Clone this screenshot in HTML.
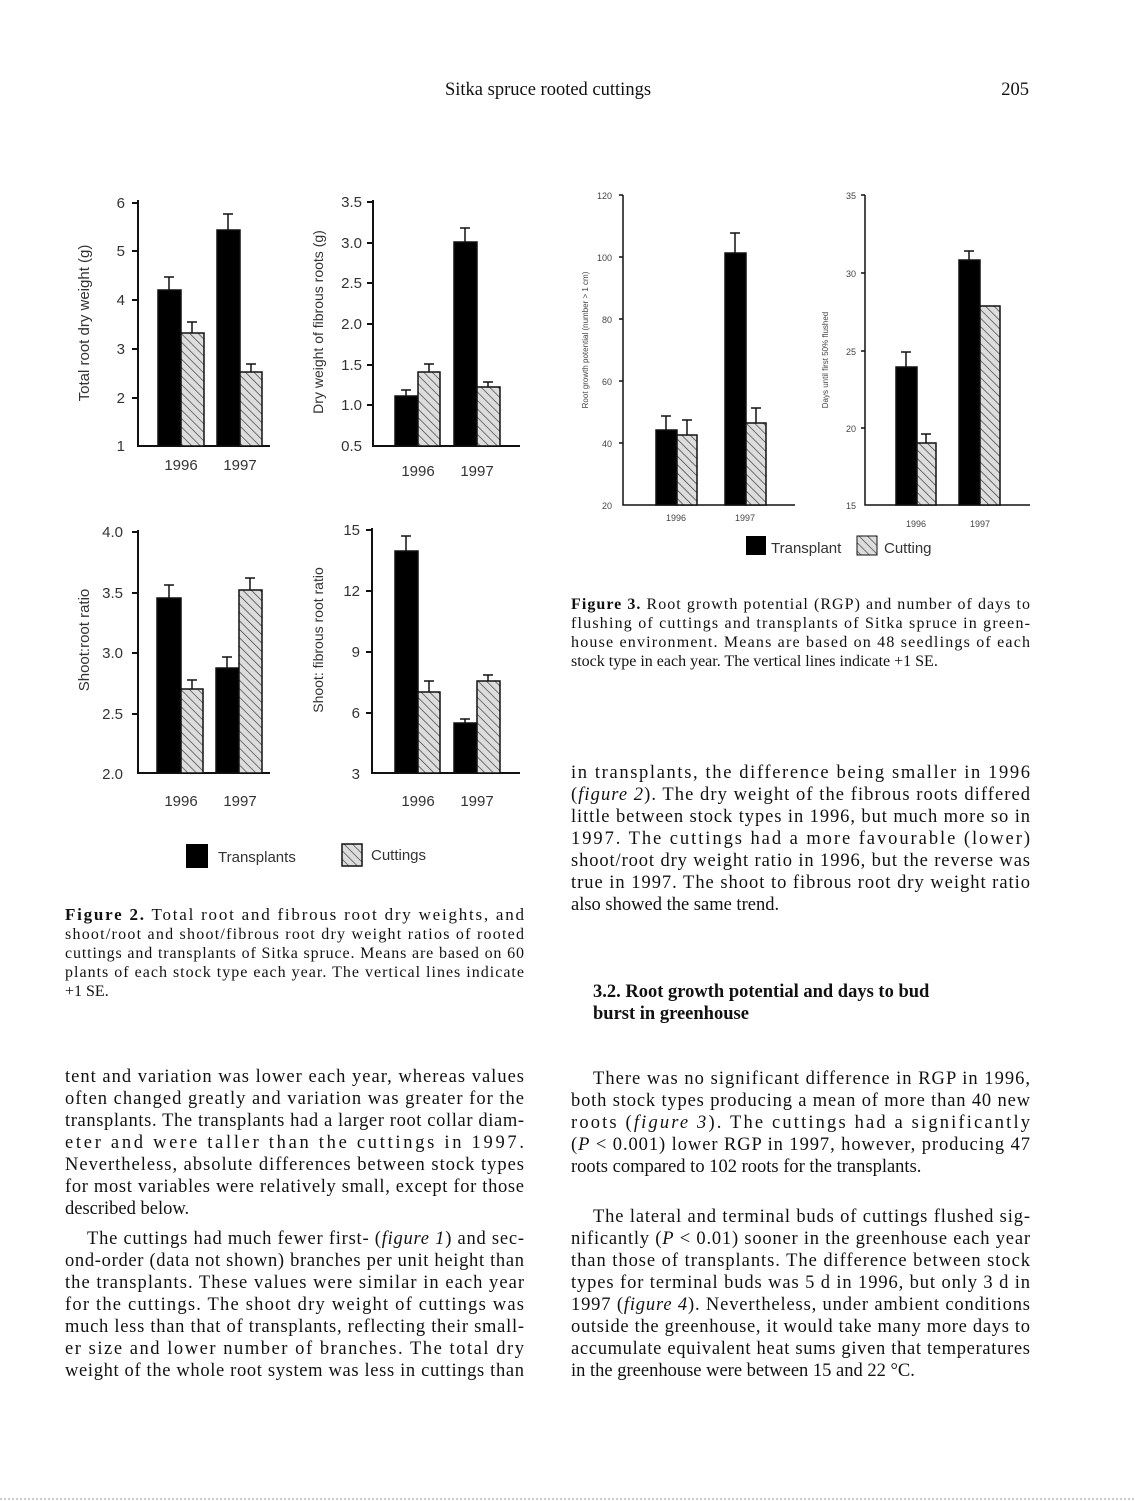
<!DOCTYPE html>
<html><head><meta charset="utf-8"><style>
body{margin:0;background:#fff}
svg{display:block}
.b{font-family:"Liberation Serif",serif;font-size:18.5px;fill:#111}
.c{font-family:"Liberation Serif",serif;font-size:16px;fill:#111}
.a{font-family:"Liberation Sans",sans-serif;font-size:15px;fill:#333}
.s{font-family:"Liberation Sans",sans-serif;font-size:9px;fill:#444}
</style></head><body>
<svg width="1135" height="1501" viewBox="0 0 1135 1501" xmlns="http://www.w3.org/2000/svg">
<defs><pattern id="h" width="6" height="6" patternUnits="userSpaceOnUse" patternTransform="rotate(-45)"><rect width="6" height="6" fill="#ddd"/><line x1="0" y1="0" x2="0" y2="6" stroke="#333" stroke-width="1.3"/></pattern></defs>
<text class="b" x="548" y="95" text-anchor="middle">Sitka spruce rooted cuttings</text>
<text class="b" x="1029" y="95" text-anchor="end">205</text>
<g stroke="#111" stroke-width="2" fill="none">
<path d="M138 200V446H270"/><path d="M132 203h6M132 251h6M132 300h6M132 349h6M132 398h6"/>
<path d="M373 200V446H520"/><path d="M367 202h6M367 243h6M367 283h6M367 324h6M367 365h6M367 405h6"/>
<path d="M138 530V773H270"/><path d="M132 532h6M132 593h6M132 653h6M132 714h6"/>
<path d="M372 528V773H520"/><path d="M366 530h6M366 591h6M366 652h6M366 713h6"/>
<path d="M623 195V505H795" stroke-width="1.5"/><path d="M619 195h4M619 257h4M619 319h4M619 381h4M619 443h4" stroke-width="1.5"/>
<path d="M865 195V505H1030" stroke-width="1.5"/><path d="M861 195h4M861 273h4M861 351h4M861 428h4" stroke-width="1.5"/>
</g>
<g stroke="#111" stroke-width="1.5">
<rect x="158" y="290" width="23" height="156" fill="#000"/><rect x="181" y="333" width="23" height="113" fill="url(#h)"/>
<rect x="217" y="230" width="23" height="216" fill="#000"/><rect x="240" y="372" width="22" height="74" fill="url(#h)"/>
<path d="M169 290V277M164 277h10M192 333V322M187 322h10M228 230V214M223 214h10M251 372V364M246 364h10"/>
<rect x="395" y="396" width="23" height="50" fill="#000"/><rect x="418" y="372" width="22" height="74" fill="url(#h)"/>
<rect x="454" y="242" width="23" height="204" fill="#000"/><rect x="477" y="387" width="23" height="59" fill="url(#h)"/>
<path d="M406 396V390M401 390h10M429 372V364M424 364h10M465 242V228M460 228h10M488 387V382M483 382h10"/>
<rect x="157" y="598" width="24" height="175" fill="#000"/><rect x="181" y="689" width="22" height="84" fill="url(#h)"/>
<rect x="216" y="668" width="23" height="105" fill="#000"/><rect x="239" y="590" width="23" height="183" fill="url(#h)"/>
<path d="M169 598V585M164 585h10M192 689V680M187 680h10M227 668V657M222 657h10M250 590V578M245 578h10"/>
<rect x="395" y="551" width="23" height="222" fill="#000"/><rect x="418" y="692" width="22" height="81" fill="url(#h)"/>
<rect x="454" y="723" width="23" height="50" fill="#000"/><rect x="477" y="681" width="23" height="92" fill="url(#h)"/>
<path d="M406 551V536M401 536h10M429 692V681M424 681h10M465 723V719M460 719h10M488 681V675M483 675h10"/>
<rect x="656" y="430" width="21" height="75" fill="#000"/><rect x="677" y="435" width="20" height="70" fill="url(#h)"/>
<rect x="725" y="253" width="21" height="252" fill="#000"/><rect x="746" y="423" width="20" height="82" fill="url(#h)"/>
<path d="M666 430V416M661 416h10M687 435V420M682 420h10M735 253V233M730 233h10M756 423V408M751 408h10"/>
<rect x="896" y="367" width="21" height="138" fill="#000"/><rect x="917" y="443" width="19" height="62" fill="url(#h)"/>
<rect x="959" y="260" width="21" height="245" fill="#000"/><rect x="980" y="306" width="20" height="199" fill="url(#h)"/>
<path d="M906 367V352M901 352h10M926 443V434M921 434h10M969 260V251M964 251h10"/>
</g>
<g class="a" text-anchor="end">
<text x="125" y="208">6</text><text x="125" y="256">5</text><text x="125" y="305">4</text><text x="125" y="354">3</text><text x="125" y="403">2</text><text x="125" y="451">1</text>
<text x="362" y="207">3.5</text><text x="362" y="248">3.0</text><text x="362" y="288">2.5</text><text x="362" y="329">2.0</text><text x="362" y="370">1.5</text><text x="362" y="410">1.0</text><text x="362" y="451">0.5</text>
<text x="123" y="537">4.0</text><text x="123" y="598">3.5</text><text x="123" y="658">3.0</text><text x="123" y="719">2.5</text><text x="123" y="779">2.0</text>
<text x="360" y="535">15</text><text x="360" y="596">12</text><text x="360" y="657">9</text><text x="360" y="718">6</text><text x="360" y="779">3</text>
</g>
<g class="a" text-anchor="middle">
<text x="181" y="470">1996</text><text x="240" y="470">1997</text>
<text x="418" y="476">1996</text><text x="477" y="476">1997</text>
<text x="181" y="806">1996</text><text x="240" y="806">1997</text>
<text x="418" y="806">1996</text><text x="477" y="806">1997</text>
<text transform="translate(89 323) rotate(-90)">Total root dry weight (g)</text>
<text transform="translate(323 322) rotate(-90)" font-size="14">Dry weight of fibrous roots (g)</text>
<text transform="translate(89 640) rotate(-90)">Shoot:root ratio</text>
<text transform="translate(323 640) rotate(-90)" font-size="14">Shoot: fibrous root ratio</text>
</g>
<rect x="186" y="844" width="22" height="24" fill="#000"/>
<text class="a" x="218" y="862" font-size="17">Transplants</text>
<rect x="342" y="844" width="20" height="22" fill="url(#h)" stroke="#111" stroke-width="1.5"/>
<text class="a" x="371" y="860" font-size="17">Cuttings</text>
<g class="s" text-anchor="end">
<text x="612" y="199">120</text><text x="612" y="261">100</text><text x="612" y="323">80</text><text x="612" y="385">60</text><text x="612" y="447">40</text><text x="612" y="509">20</text>
<text x="856" y="199">35</text><text x="856" y="277">30</text><text x="856" y="355">25</text><text x="856" y="432">20</text><text x="856" y="509">15</text>
</g>
<g class="s" text-anchor="middle">
<text x="676" y="521">1996</text><text x="745" y="521">1997</text><text x="916" y="527">1996</text><text x="980" y="527">1997</text>
<text transform="translate(588 340) rotate(-90)" font-size="8">Root growth potential (number &gt; 1 cm)</text>
<text transform="translate(828 360) rotate(-90)" font-size="8">Days until first 50% flushed</text>
</g>
<rect x="746" y="536" width="20" height="19" fill="#000"/><text class="a" x="771" y="553" font-size="12">Transplant</text>
<rect x="857" y="536" width="20" height="19" fill="url(#h)" stroke="#111"/><text class="a" x="884" y="553" font-size="12">Cutting</text>
<g class="c">
<text x="571" y="609" textLength="459"><tspan font-weight="bold">Figure 3.</tspan> Root growth potential (RGP) and number of days to</text>
<text x="571" y="628" textLength="459">flushing of cuttings and transplants of Sitka spruce in green-</text>
<text x="571" y="647" textLength="459">house environment. Means are based on 48 seedlings of each</text>
<text x="571" y="666">stock type in each year. The vertical lines indicate +1 SE.</text>
<text x="65" y="920" textLength="459" font-size="17"><tspan font-weight="bold">Figure 2.</tspan> Total root and fibrous root dry weights, and</text>
<text x="65" y="939" textLength="459">shoot/root and shoot/fibrous root dry weight ratios of rooted</text>
<text x="65" y="958" textLength="459">cuttings and transplants of Sitka spruce. Means are based on 60</text>
<text x="65" y="977" textLength="459">plants of each stock type each year. The vertical lines indicate</text>
<text x="65" y="996">+1 SE.</text>
</g>
<g class="b">
<text x="571" y="778" textLength="459">in transplants, the difference being smaller in 1996</text>
<text x="571" y="800" textLength="459">(<tspan font-style="italic">figure 2</tspan>). The dry weight of the fibrous roots differed</text>
<text x="571" y="822" textLength="459">little between stock types in 1996, but much more so in</text>
<text x="571" y="844" textLength="459">1997. The cuttings had a more favourable (lower)</text>
<text x="571" y="866" textLength="459">shoot/root dry weight ratio in 1996, but the reverse was</text>
<text x="571" y="888" textLength="459">true in 1997. The shoot to fibrous root dry weight ratio</text>
<text x="571" y="910">also showed the same trend.</text>
<text x="593" y="997" font-weight="bold">3.2. Root growth potential and days to bud</text>
<text x="593" y="1019" font-weight="bold">burst in greenhouse</text>
<text x="593" y="1084" textLength="437">There was no significant difference in RGP in 1996,</text>
<text x="571" y="1106" textLength="459">both stock types producing a mean of more than 40 new</text>
<text x="571" y="1128" textLength="459">roots (<tspan font-style="italic">figure 3</tspan>). The cuttings had a significantly</text>
<text x="571" y="1150" textLength="459">(<tspan font-style="italic">P</tspan> &lt; 0.001) lower RGP in 1997, however, producing 47</text>
<text x="571" y="1172">roots compared to 102 roots for the transplants.</text>
<text x="593" y="1222" textLength="437">The lateral and terminal buds of cuttings flushed sig-</text>
<text x="571" y="1244" textLength="459">nificantly (<tspan font-style="italic">P</tspan> &lt; 0.01) sooner in the greenhouse each year</text>
<text x="571" y="1266" textLength="459">than those of transplants. The difference between stock</text>
<text x="571" y="1288" textLength="459">types for terminal buds was 5 d in 1996, but only 3 d in</text>
<text x="571" y="1310" textLength="459">1997 (<tspan font-style="italic">figure 4</tspan>). Nevertheless, under ambient conditions</text>
<text x="571" y="1332" textLength="459">outside the greenhouse, it would take many more days to</text>
<text x="571" y="1354" textLength="459">accumulate equivalent heat sums given that temperatures</text>
<text x="571" y="1376">in the greenhouse were between 15 and 22 °C.</text>
<text x="65" y="1082" textLength="459">tent and variation was lower each year, whereas values</text>
<text x="65" y="1104" textLength="459">often changed greatly and variation was greater for the</text>
<text x="65" y="1126" textLength="459">transplants. The transplants had a larger root collar diam-</text>
<text x="65" y="1148" textLength="459">eter and were taller than the cuttings in 1997.</text>
<text x="65" y="1170" textLength="459">Nevertheless, absolute differences between stock types</text>
<text x="65" y="1192" textLength="459">for most variables were relatively small, except for those</text>
<text x="65" y="1214">described below.</text>
<text x="87" y="1244" textLength="437">The cuttings had much fewer first- (<tspan font-style="italic">figure 1</tspan>) and sec-</text>
<text x="65" y="1266" textLength="459">ond-order (data not shown) branches per unit height than</text>
<text x="65" y="1288" textLength="459">the transplants. These values were similar in each year</text>
<text x="65" y="1310" textLength="459">for the cuttings. The shoot dry weight of cuttings was</text>
<text x="65" y="1332" textLength="459">much less than that of transplants, reflecting their small-</text>
<text x="65" y="1354" textLength="459">er size and lower number of branches. The total dry</text>
<text x="65" y="1376" textLength="459">weight of the whole root system was less in cuttings than</text>
</g>
<line x1="0" y1="1499" x2="1135" y2="1499" stroke="#999" stroke-dasharray="2 2"/>
</svg>
</body></html>
